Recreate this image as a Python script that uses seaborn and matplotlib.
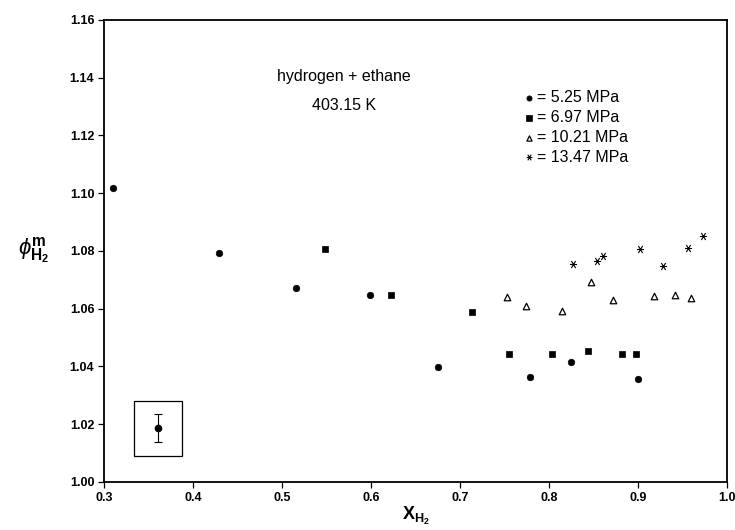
import numpy as np
import pandas as pd
import matplotlib
matplotlib.use("Agg")
import matplotlib.pyplot as plt
import seaborn as sns
from matplotlib.patches import Rectangle
from matplotlib.path import Path

# ---------------------------------------------------------
# data (hydrogen + ethane, 403.15 K)
# ---------------------------------------------------------
x_525 = [0.310, 0.429, 0.516, 0.599, 0.675, 0.779, 0.825, 0.900]
y_525 = [1.1019, 1.0794, 1.0672, 1.0648, 1.0399, 1.0364, 1.0416, 1.0357]

x_697 = [0.548, 0.622, 0.713, 0.755, 0.804, 0.844, 0.882, 0.898]
y_697 = [1.0808, 1.0648, 1.0589, 1.0444, 1.0444, 1.0454, 1.0444, 1.0444]

x_1021 = [0.753, 0.774, 0.815, 0.847, 0.872, 0.918, 0.942, 0.960]
y_1021 = [1.0641, 1.0610, 1.0593, 1.0693, 1.0630, 1.0645, 1.0648, 1.0638]

x_1347 = [0.827, 0.854, 0.861, 0.902, 0.928, 0.956, 0.973]
y_1347 = [1.0756, 1.0766, 1.0783, 1.0806, 1.0749, 1.0811, 1.0853]

labels = ["= 5.25 MPa", "= 6.97 MPa", "= 10.21 MPa", "= 13.47 MPa"]

# typical uncertainty shown in the inset box
err_x = [0.361]
err_y = [1.0187]
err_val = [0.0049]

xticks = [0.3, 0.4, 0.5, 0.6, 0.7, 0.8, 0.9, 1.0]
yticks = [1.00, 1.02, 1.04, 1.06, 1.08, 1.10, 1.12, 1.14, 1.16]

# "x" with a horizontal bar through it
xbar = Path([(-0.6, -1), (0.6, 1), (-0.6, 1), (0.6, -1), (-1, 0), (1, 0)],
            [Path.MOVETO, Path.LINETO, Path.MOVETO, Path.LINETO,
             Path.MOVETO, Path.LINETO])

# ---------------------------------------------------------
# plot
# ---------------------------------------------------------
sns.set_style("ticks")
plt.rcParams["font.family"] = ["Liberation Sans", "DejaVu Sans"]
plt.rcParams["mathtext.fontset"] = "custom"
plt.rcParams["mathtext.rm"] = "Liberation Sans:bold"
plt.rcParams["mathtext.it"] = "Liberation Sans:italic"
plt.rcParams["mathtext.bf"] = "Liberation Sans:bold"
for key in ["text.color", "axes.labelcolor", "xtick.color", "ytick.color",
            "axes.edgecolor"]:
    plt.rcParams[key] = "black"

fig = plt.figure(figsize=(7.35, 5.3), dpi=100)
ax = fig.add_axes([0.1415, 0.0906, 0.8475, 0.8717])

sns.scatterplot(x=x_525, y=y_525, marker="o", s=22, color="black",
                edgecolor="black", linewidth=0.5, label=labels[0], ax=ax)
sns.scatterplot(x=x_697, y=y_697, marker="s", s=22, color="black",
                edgecolor="black", linewidth=0.5, label=labels[1], ax=ax)
sns.scatterplot(x=x_1021, y=y_1021, marker="^", s=22, color="white",
                edgecolor="black", linewidth=0.9, label=labels[2], ax=ax)
sns.scatterplot(x=x_1347, y=y_1347, marker=xbar, s=26, color="black",
                edgecolor="black", linewidth=0.8, label=labels[3], ax=ax)

# inset with error bar
ax.errorbar(err_x, err_y, yerr=err_val, fmt="o", ms=4.5, color="black",
             capsize=3, elinewidth=0.8, capthick=0.8)
ax.add_patch(Rectangle((0.334, 1.009), 0.054, 0.019, fill=False,
                       edgecolor="black", linewidth=0.9))

ax.set_xlim(0.3, 1.0)
ax.set_ylim(1.00, 1.16)
ax.set_xticks(xticks)
ax.set_yticks(yticks)
ax.set_xticklabels([f"{t:.1f}" for t in xticks], fontsize=9, fontweight="bold")
ax.set_yticklabels([f"{t:.2f}" for t in yticks], fontsize=9, fontweight="bold")
ax.tick_params(direction="out", length=4, width=0.9, pad=3)

for sp in ax.spines.values():
    sp.set_linewidth(1.3)
    sp.set_visible(True)

ax.set_xlabel(r"$\mathrm{X_{H_2}}$", fontsize=13, labelpad=1)
ax.set_ylabel(r"$\phi^{\mathrm{m}}_{\mathrm{H_2}}$", fontsize=16,
              rotation=0, labelpad=26, va="center")

ax.text(0.385, 0.878, "hydrogen + ethane", transform=ax.transAxes,
        ha="center", va="center", fontsize=11.5)
ax.text(0.385, 0.815, "403.15 K", transform=ax.transAxes,
        ha="center", va="center", fontsize=11.5)

ax.legend(loc="upper left", bbox_to_anchor=(0.66, 0.862), frameon=False,
          fontsize=11.5, handletextpad=0.0, labelspacing=0.3,
          handlelength=1.0, borderaxespad=0.0, markerscale=0.8)

fig.savefig("out.png", dpi=100)
